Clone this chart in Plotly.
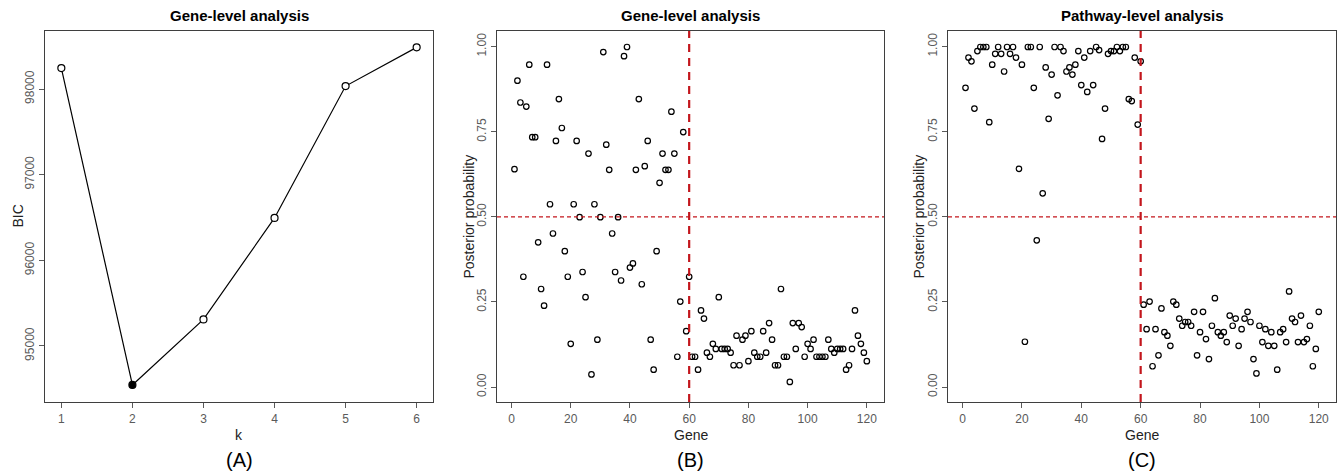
import plotly.graph_objects as go

# ---------------- data ----------------
k_values = [1, 2, 3, 4, 5, 6]
bic_values = [98245, 94545, 95310, 96495, 98035, 98487]
best_k = 2

genes = list(range(1, 121))

gene_level_prob = [
    0.64, 0.90, 0.836, 0.324, 0.824, 0.947, 0.734, 0.734, 0.425, 0.288,
    0.239, 0.947, 0.537, 0.451, 0.723, 0.846, 0.761, 0.399, 0.324, 0.127,
    0.537, 0.723, 0.499, 0.338, 0.264, 0.686, 0.037, 0.537, 0.139, 0.499,
    0.984, 0.712, 0.638, 0.451, 0.338, 0.499, 0.313, 0.972, 0.999, 0.351,
    0.363, 0.638, 0.846, 0.302, 0.649, 0.723, 0.139, 0.051, 0.399, 0.600,
    0.686, 0.638, 0.638, 0.809, 0.686, 0.089, 0.251, 0.749, 0.164, 0.324,
    0.089, 0.089, 0.051, 0.225, 0.201, 0.101, 0.089, 0.127, 0.112, 0.264,
    0.112, 0.112, 0.112, 0.101, 0.064, 0.151, 0.064, 0.139, 0.151, 0.076,
    0.164, 0.101, 0.089, 0.089, 0.164, 0.101, 0.188, 0.139, 0.064, 0.064,
    0.288, 0.089, 0.089, 0.015, 0.188, 0.112, 0.188, 0.176, 0.089, 0.127,
    0.112, 0.139, 0.089, 0.089, 0.089, 0.089, 0.139, 0.112, 0.101, 0.112,
    0.112, 0.112, 0.051, 0.064, 0.112, 0.225, 0.151, 0.127, 0.101, 0.076,
]

pathway_level_prob = [
    0.879, 0.968, 0.957, 0.818, 0.987, 0.999, 0.999, 0.999, 0.778, 0.947,
    0.979, 0.999, 0.979, 0.927, 0.999, 0.979, 0.999, 0.968, 0.641, 0.947,
    0.133, 0.999, 0.999, 0.879, 0.431, 0.999, 0.569, 0.939, 0.788, 0.918,
    0.999, 0.857, 0.999, 0.987, 0.927, 0.939, 0.918, 0.947, 0.987, 0.887,
    0.968, 0.867, 0.987, 0.887, 0.999, 0.990, 0.729, 0.818, 0.979, 0.987,
    0.987, 0.999, 0.987, 0.999, 0.999, 0.846, 0.840, 0.968, 0.771, 0.957,
    0.242, 0.170, 0.251, 0.061, 0.170, 0.093, 0.231, 0.161, 0.151, 0.121,
    0.251, 0.242, 0.201, 0.180, 0.191, 0.191, 0.180, 0.221, 0.093, 0.161,
    0.221, 0.141, 0.082, 0.180, 0.261, 0.161, 0.151, 0.161, 0.132, 0.210,
    0.180, 0.201, 0.121, 0.170, 0.201, 0.221, 0.191, 0.082, 0.040, 0.180,
    0.132, 0.170, 0.121, 0.161, 0.121, 0.051, 0.161, 0.170, 0.132, 0.281,
    0.201, 0.191, 0.132, 0.210, 0.132, 0.141, 0.180, 0.061, 0.112, 0.221,
]

prob_ticks = [0.0, 0.25, 0.5, 0.75, 1.0]
gene_ticks = [0, 20, 40, 60, 80, 100, 120]
bic_ticks = [95000, 96000, 97000, 98000]
threshold_prob = 0.5
split_gene = 60

panel_titles = ["Gene-level analysis", "Gene-level analysis", "Pathway-level analysis"]
panel_labels = ["(A)", "(B)", "(C)"]

# ---------------- layout helpers ----------------
W, H = 1341, 475
FONT = "Liberation Sans, Arial, Helvetica, sans-serif"
RED = "#C3161C"
FRAME = "#3f3f3f"
TICKC = "#5a5a5a"

def px_x(p):
    return p / W

def px_y(p):
    return 1 - p / H

ydom = [px_y(402), px_y(31)]
xdoms = [[px_x(45), px_x(433)], [px_x(497), px_x(884)], [px_x(948), px_x(1336)]]

fig = go.Figure()

# Panel A
fig.add_trace(go.Scatter(
    x=k_values, y=bic_values, mode="lines+markers",
    line=dict(color="black", width=1.2),
    marker=dict(size=7, color=["black" if k == best_k else "white" for k in k_values],
                line=dict(color="black", width=1.2)),
    xaxis="x", yaxis="y", showlegend=False))

# Panel B
fig.add_trace(go.Scatter(
    x=genes, y=gene_level_prob, mode="markers",
    marker=dict(size=5.5, color="rgba(255,255,255,0)", line=dict(color="black", width=1.2)),
    xaxis="x2", yaxis="y2", showlegend=False))

# Panel C
fig.add_trace(go.Scatter(
    x=genes, y=pathway_level_prob, mode="markers",
    marker=dict(size=5.5, color="rgba(255,255,255,0)", line=dict(color="black", width=1.2)),
    xaxis="x3", yaxis="y3", showlegend=False))

common_axis = dict(
    showline=True, mirror=True, linecolor=FRAME, linewidth=1.3,
    ticks="outside", ticklen=5, tickcolor=TICKC, tickwidth=1,
    showgrid=False, zeroline=False,
    tickfont=dict(family=FONT, size=12, color=TICKC),
)

layout = dict(
    width=W, height=H,
    margin=dict(l=0, r=0, t=0, b=0),
    paper_bgcolor="white", plot_bgcolor="white",
    showlegend=False,
    font=dict(family=FONT, color="black"),
    xaxis=dict(domain=xdoms[0], range=[0.77, 6.23], tickvals=k_values, anchor="y", **common_axis),
    yaxis=dict(domain=ydom, range=[94346, 98678], tickvals=bic_ticks, tickformat="d",
               tickangle=-90, anchor="x", **common_axis),
)
for i in (2, 3):
    layout[f"xaxis{i}"] = dict(domain=xdoms[i - 1], range=[-4.9, 125.8], tickvals=gene_ticks,
                               anchor=f"y{i}", **common_axis)
    layout[f"yaxis{i}"] = dict(domain=ydom, range=[-0.044, 1.046], tickvals=prob_ticks,
                               tickformat=".2f", tickangle=-90, anchor=f"x{i}", **common_axis)
fig.update_layout(**layout)

# reference lines in B and C
for i in (2, 3):
    fig.add_shape(type="line", xref=f"x{i} domain", yref=f"y{i}",
                  x0=0, x1=1, y0=threshold_prob, y1=threshold_prob,
                  line=dict(color=RED, width=1.4, dash="4px,3px"))
    fig.add_shape(type="line", xref=f"x{i}", yref=f"y{i} domain",
                  x0=split_gene, x1=split_gene, y0=0, y1=1,
                  line=dict(color=RED, width=2.2, dash="8px,6px"))

# texts
centers = [(xd[0] + xd[1]) / 2 for xd in xdoms]
x_titles = ["k", "Gene", "Gene"]
y_titles = ["BIC", "Posterior probability", "Posterior probability"]
y_title_x = [px_x(17), px_x(468), px_x(918)]
ycenter = (ydom[0] + ydom[1]) / 2
ann = dict(xref="paper", yref="paper", showarrow=False, xanchor="center", yanchor="middle")
for i in range(3):
    fig.add_annotation(text=f"<b>{panel_titles[i]}</b>", x=centers[i], y=px_y(16),
                       font=dict(family=FONT, size=15, color="black"), **ann)
    fig.add_annotation(text=x_titles[i], x=centers[i], y=px_y(435),
                       font=dict(family=FONT, size=14, color="#222"), **ann)
    fig.add_annotation(text=y_titles[i], x=y_title_x[i], y=ycenter, textangle=-90,
                       font=dict(family=FONT, size=14, color="#222"), **ann)
    fig.add_annotation(text=panel_labels[i], x=centers[i], y=px_y(460),
                       font=dict(family=FONT, size=20, color="black"), **ann)

fig.write_html("out.html", config={"displayModeBar": False},
               post_script="document.body.style.margin='0';document.body.style.padding='0';")
